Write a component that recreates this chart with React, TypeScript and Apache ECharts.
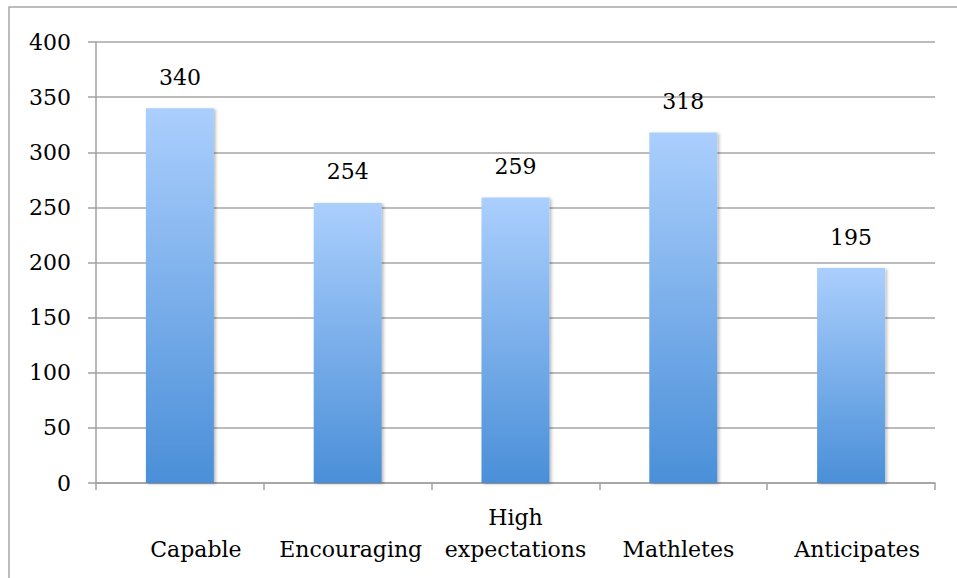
import React, { useEffect, useRef } from "react";
import * as echarts from "echarts";

const categories = ["Capable", "Encouraging", "High\nexpectations", "Mathletes", "Anticipates"];
const labelShift = [16, 3, 0, -5, 6];
const values = [340, 254, 259, 318, 195];

export default function App() {
  const ref = useRef<HTMLDivElement>(null);
  useEffect(() => {
    const chart = echarts.init(ref.current!, undefined, { renderer: "svg" });
    const font = "DejaVu Serif";
    chart.setOption({
      animation: false,
      backgroundColor: "#ffffff",
      graphic: [
        {
          type: "rect",
          shape: { x: 9, y: 7, width: 1000, height: 1000 },
          style: { fill: "none", stroke: "#a6a6a6", lineWidth: 1.5 },
          silent: true,
        },
      ],
      grid: { left: 96, top: 42, right: 22, bottom: 95, containLabel: false, outerBoundsMode: "none" },
      xAxis: {
        type: "category",
        data: categories.map((c, i) => ({
          value: c,
          textStyle: {
            verticalAlign: "bottom",
            lineHeight: 32,
            fontFamily: font,
            fontSize: 22,
            color: "#000",
            padding: labelShift[i] >= 0 ? [0, 0, 0, 2 * labelShift[i]] : [0, -2 * labelShift[i], 0, 0],
          },
        })),
        axisLine: { show: true, lineStyle: { color: "#a0a0a0", width: 1.5 } },
        axisTick: { show: true, length: 7, interval: 0, lineStyle: { color: "#a0a0a0", width: 1.5 } },
        axisLabel: {
          interval: 0,
          margin: 82,
          verticalAlign: "bottom",
          lineHeight: 32,
          fontFamily: font,
          fontSize: 22,
          color: "#000",
        },
      },
      yAxis: {
        type: "value",
        min: 0,
        max: 400,
        interval: 50,
        axisLine: { show: true, lineStyle: { color: "#a0a0a0", width: 1.5 } },
        axisTick: { show: true, length: 8, inside: false, lineStyle: { color: "#a0a0a0", width: 1.5 } },
        splitLine: { show: true, lineStyle: { color: "#a6a6a6", width: 1.5 } },
        axisLabel: {
          margin: 25,
          fontFamily: font,
          fontSize: 22,
          color: "#000",
        },
      },
      series: [
        {
          type: "bar",
          data: values,
          barWidth: 68,
          itemStyle: {
            color: new echarts.graphic.LinearGradient(0, 0, 0, 1, [
              { offset: 0, color: "#abcffd" },
              { offset: 1, color: "#4a8fd8" },
            ]),
            shadowColor: "rgba(0,0,0,0.25)",
            shadowBlur: 3,
            shadowOffsetX: 2,
            shadowOffsetY: 1,
          },
          label: {
            show: true,
            position: "top",
            distance: 20,
            fontFamily: font,
            fontSize: 22,
            color: "#000",
          },
        },
      ],
    });
    return () => chart.dispose();
  }, []);
  return (
    <div
      ref={ref}
      style={{ position: "absolute", left: 0, top: 0, width: 957, height: 578 }}
    />
  );
}
